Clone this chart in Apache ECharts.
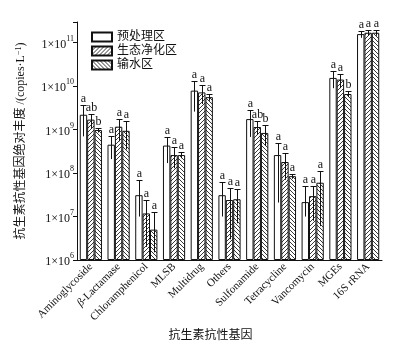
<!DOCTYPE html>
<html>
<head>
<meta charset="utf-8">
<script src="https://cdn.jsdelivr.net/npm/echarts@6/dist/echarts.min.js"></script>
<style>
html, body { margin: 0; padding: 0; background: #fff; }
#main { width: 404px; height: 347px; }
</style>
</head>
<body>
<div id="main"></div>
<script>
// categories and values (copies/L)
var categories = ['Aminoglycoside', 'β-Lactamase', 'Chloramphenicol', 'MLSB', 'Multidrug', 'Others',
	'Sulfonamide', 'Tetracycline', 'Vancomycin', 'MGEs', '16S rRNA'];
var seriesNames = ['预处理区', '生态净化区', '输水区'];

var pre = [2.2e9, 4.5e8, 3.1e7, 4.3e8, 7.9e9, 3.1e7, 1.75e9, 2.6e8, 2.15e7, 1.55e10, 1.58e11];
var eco = [1.7e9, 1.17e9, 1.18e7, 2.6e8, 7.2e9, 2.4e7, 1.15e9, 1.8e8, 2.95e7, 1.42e10, 1.7e11];
var out = [9.8e8, 9.4e8, 5e6, 2.6e8, 5.6e9, 2.5e7, 8.4e8, 8.5e7, 6e7, 6.6e9, 1.7e11];

// error bar ends
var preHi = [3.7e9, 7.1e8, 7e7, 6.6e8, 1.3e10, 6.2e7, 2.8e9, 5e8, 5e7, 2.2e10, 1.85e11];
var preLo = [7e8, 2.1e8, 1e7, 1.7e8, 2.6e9, 1e7, 6.8e8, 2.1e7, 1e7, 9e9, 1.3e11];
var ecoHi = [2.35e9, 1.8e9, 2.35e7, 3.9e8, 1.05e10, 4.5e7, 1.55e9, 2.9e8, 5e7, 1.94e10, 1.95e11];
var ecoLo = [1.05e9, 5.4e8, 2e6, 1.3e8, 3.9e9, 3e6, 7.5e8, 7e7, 8e6, 9e9, 1.45e11];
var outHi = [1.1e9, 1.55e9, 1.3e7, 3e8, 6.6e9, 4.3e7, 1.26e9, 9.6e7, 1.1e8, 7.6e9, 1.95e11];
var outLo = [8.6e8, 3.5e8, 1.5e6, 2.2e8, 4.6e9, 7e6, 4.2e8, 7.4e7, 6e6, 5.6e9, 1.45e11];

// significance letters
var preSig = ['a', 'a', 'a', 'a', 'a', 'a', 'a', 'a', 'a', 'a', 'a'];
var ecoSig = ['ab', 'a', 'a', 'a', 'a', 'a', 'ab', 'a', 'a', 'a', 'a'];
var outSig = ['b', 'a', 'a', 'a', 'a', 'a', 'b', 'a', 'a', 'b', 'a'];

var yMin = 1e6, yMax = 3e11;
var serif = 'Liberation Serif, Noto Sans CJK SC';

function hatch(dir) {
	var c = document.createElement('canvas');
	c.width = 4; c.height = 4;
	var ctx = c.getContext('2d');
	ctx.fillStyle = '#fff';
	ctx.fillRect(0, 0, 4, 4);
	ctx.strokeStyle = '#222';
	ctx.lineWidth = 0.9;
	ctx.beginPath();
	if (dir > 0) {
		ctx.moveTo(0, 4); ctx.lineTo(4, 0);
		ctx.moveTo(-1, 1); ctx.lineTo(1, -1);
		ctx.moveTo(3, 5); ctx.lineTo(5, 3);
	} else {
		ctx.moveTo(0, 0); ctx.lineTo(4, 4);
		ctx.moveTo(-1, 3); ctx.lineTo(1, 5);
		ctx.moveTo(3, -1); ctx.lineTo(5, 1);
	}
	ctx.stroke();
	return { image: c, repeat: 'repeat' };
}

var fills = ['#fff', hatch(1), hatch(-1)];
var means = [pre, eco, out];
var his = [preHi, ecoHi, outHi];
var los = [preLo, ecoLo, outLo];
var sigs = [preSig, ecoSig, outSig];

var chart = echarts.init(document.getElementById('main'));

var series = [];
seriesNames.forEach(function(name, k) {
	series.push({
		name: name,
		type: 'bar',
		barGap: 0,
		barCategoryGap: '20%',
		clip: true,
		data: means[k],
		itemStyle: { color: fills[k], borderColor: '#111', borderWidth: 1 }
	});
});

seriesNames.forEach(function(name, k) {
	series.push({
		type: 'custom',
		silent: true,
		z: 5,
		data: categories.map(function(c, i) { return [i, his[k][i], los[k][i], means[k][i]]; }),
		renderItem: function(params, api) {
			var i = api.value(0);
			var band = api.size([1, 0])[0];
			var bw = band * 0.8 / 3;
			var top = api.coord([i, api.value(1)]);
			var bot = api.coord([i, Math.max(api.value(2), yMin)]);
			var x = Math.round(top[0] + (k - 1) * bw) + 0.5;
			var yt = Math.round(top[1]) + 0.5;
			return {
				type: 'group',
				children: [
					{ type: 'line', shape: { x1: x, y1: yt, x2: x, y2: bot[1] }, style: { stroke: '#111', lineWidth: 1 } },
					{ type: 'line', shape: { x1: x - 3, y1: yt, x2: x + 3, y2: yt }, style: { stroke: '#111', lineWidth: 1 } },
					{ type: 'text', x: x, y: yt - 1, style: {
						text: sigs[k][i], align: 'center', verticalAlign: 'bottom',
						font: '12px Liberation Serif', fill: '#111'
					} }
				]
			};
		}
	});
});

var option = {
	animation: false,
	backgroundColor: '#fff',
	grid: { left: 77, right: 22, top: 22, bottom: 80 },
	legend: {
		orient: 'vertical',
		left: 86,
		top: 26,
		icon: 'rect',
		itemWidth: 20,
		itemHeight: 9,
		itemGap: 2,
		data: seriesNames,
		textStyle: { fontSize: 12, fontFamily: serif, color: '#111' }
	},
	xAxis: {
		type: 'category',
		data: categories,
		name: '抗生素抗性基因',
		nameLocation: 'middle',
		nameGap: 70,
		nameTextStyle: { fontSize: 12, fontFamily: serif, color: '#111', padding: [0, 38, 0, 0] },
		axisLine: { lineStyle: { color: '#111', width: 1 } },
		axisTick: { show: false },
		axisLabel: {
			interval: 0, rotate: 45, margin: 5,
			fontSize: 11, fontFamily: serif, color: '#111',
			formatter: function(v) { return v.charAt(0) === 'β' ? '{it|β}' + v.slice(1) : v; },
			rich: { it: { fontStyle: 'italic', fontSize: 11, fontFamily: serif, color: '#111' } }
		}
	},
	yAxis: {
		type: 'log',
		logBase: 10,
		min: yMin,
		max: yMax,
		startValue: yMin,
		name: '抗生素抗性基因绝对丰度 /(copies·L{sup|−1})',
		nameLocation: 'middle',
		nameGap: 50,
		nameTextStyle: {
			fontSize: 12, fontFamily: serif, color: '#111',
			rich: { sup: { fontSize: 8, fontFamily: serif, color: '#111', verticalAlign: 'top' } }
		},
		splitLine: { show: false },
		axisLine: { show: true, lineStyle: { color: '#111', width: 1 } },
		axisTick: { show: true, length: 4, lineStyle: { color: '#111' } },
		minorTick: { show: false },
		axisLabel: {
			margin: 3,
			fontSize: 12, fontFamily: serif, color: '#111',
			formatter: function(v) {
				var e = Math.log10(v);
				if (Math.abs(e - Math.round(e)) > 1e-6) return '';
				return '{b|1×10}{sup|' + Math.round(e) + '}';
			},
			rich: {
				b: { fontSize: 12, fontFamily: serif, color: '#111', lineHeight: 16, verticalAlign: 'bottom' },
				sup: { fontSize: 8, fontFamily: serif, color: '#111', lineHeight: 16, verticalAlign: 'top' }
			}
		}
	},
	series: series
};

chart.setOption(option);
</script>
</body>
</html>
